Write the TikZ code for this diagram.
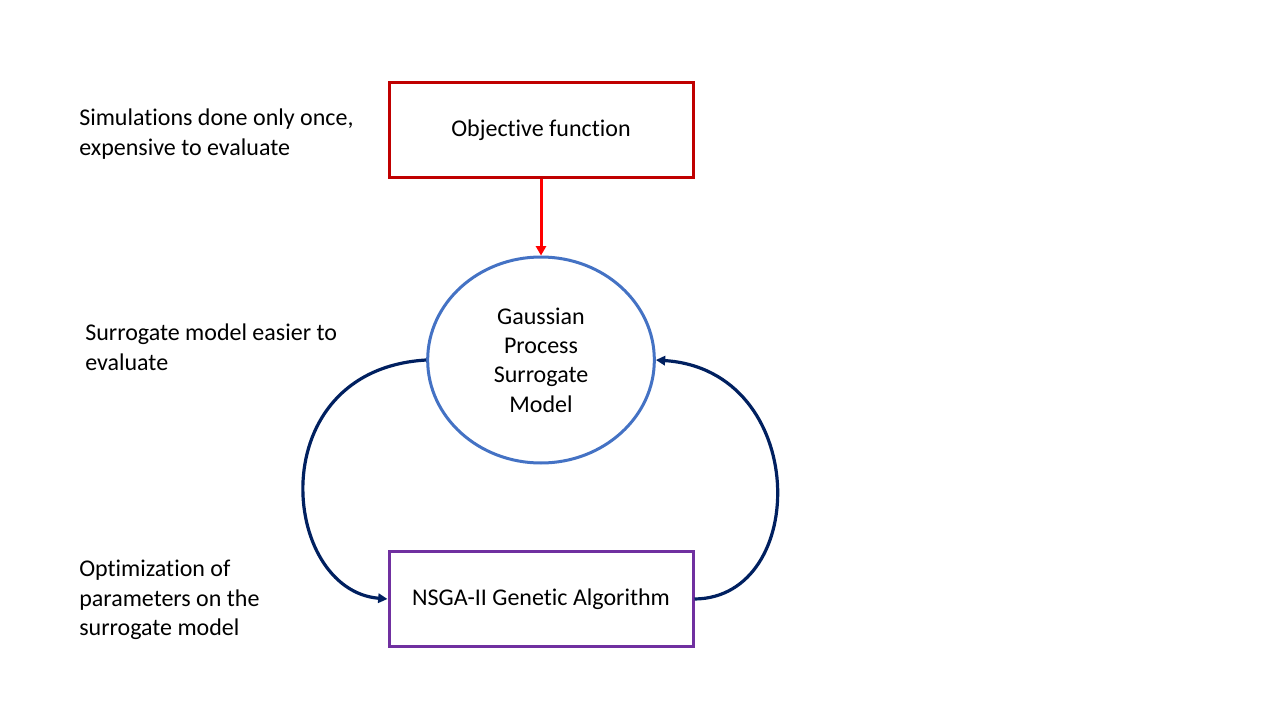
\documentclass[tikz,border=0pt]{standalone}
\usepackage{fontspec}
\setmainfont{Carlito}[Ligatures={NoCommon}]
\usetikzlibrary{arrows.meta,shapes.geometric}
\definecolor{objred}{HTML}{C00000}
\definecolor{arrred}{HTML}{FF0000}
\definecolor{gpblue}{HTML}{4472C4}
\definecolor{gapurple}{HTML}{7030A0}
\definecolor{navy}{HTML}{002060}
\newcommand{\tiX}{t\kern0pt i}
\tikzset{
  boxnode/.style={draw, line width=2.25pt, minimum width=228pt, minimum height=71.25pt, inner sep=0pt, font=\fontsize{18pt}{22pt}\selectfont},
  gpnode/.style={draw=gpblue, ellipse, line width=2.25pt, minimum width=170pt, minimum height=154.5pt, inner sep=0pt, align=center, font=\fontsize{18pt}{22pt}\selectfont},
  label/.style={anchor=north west, align=left, inner sep=0pt, font=\fontsize{18pt}{22pt}\selectfont},
  loopline/.style={draw=navy, line width=2.4pt, -{Triangle[length=7pt,width=7pt]}},
}
\begin{document}
\begin{tikzpicture}[x=0.75pt,y=-0.75pt]
\useasboundingbox (0,0) rectangle (1280,720);
\fill[white] (0,0) rectangle (1280,720);
\node[boxnode, draw=objred] (obj) at (541,130.5) {Objec\tiX ve func\tiX on};
\node[gpnode] (gp) at (541,360) {Gaussian\\Process\\Surrogate\\Model};
\node[boxnode, draw=gapurple] (ga) at (541,599) {NSGA-II Gene\tiX c Algorithm};
\draw[draw=arrred, line width=2.25pt, -{Triangle[length=7pt,width=7.5pt]}] (obj.south) -- (gp.north);
\draw[loopline] (gp.west) .. controls (260,370) and (280,590) .. (ga.west);
\draw[loopline] (ga.east) .. controls (810,598) and (810,370) .. (gp.east);
\node[label] (t1) at (79,109) {Simula\tiX ons done only once,\\expensive to evaluate};
\node[label] (t2) at (85,324) {Surrogate model easier to\\evaluate};
\node[label] (t3) at (79,560) {Op\tiX miza\tiX on of\\parameters on the\\surrogate model};
\end{tikzpicture}
\end{document}
